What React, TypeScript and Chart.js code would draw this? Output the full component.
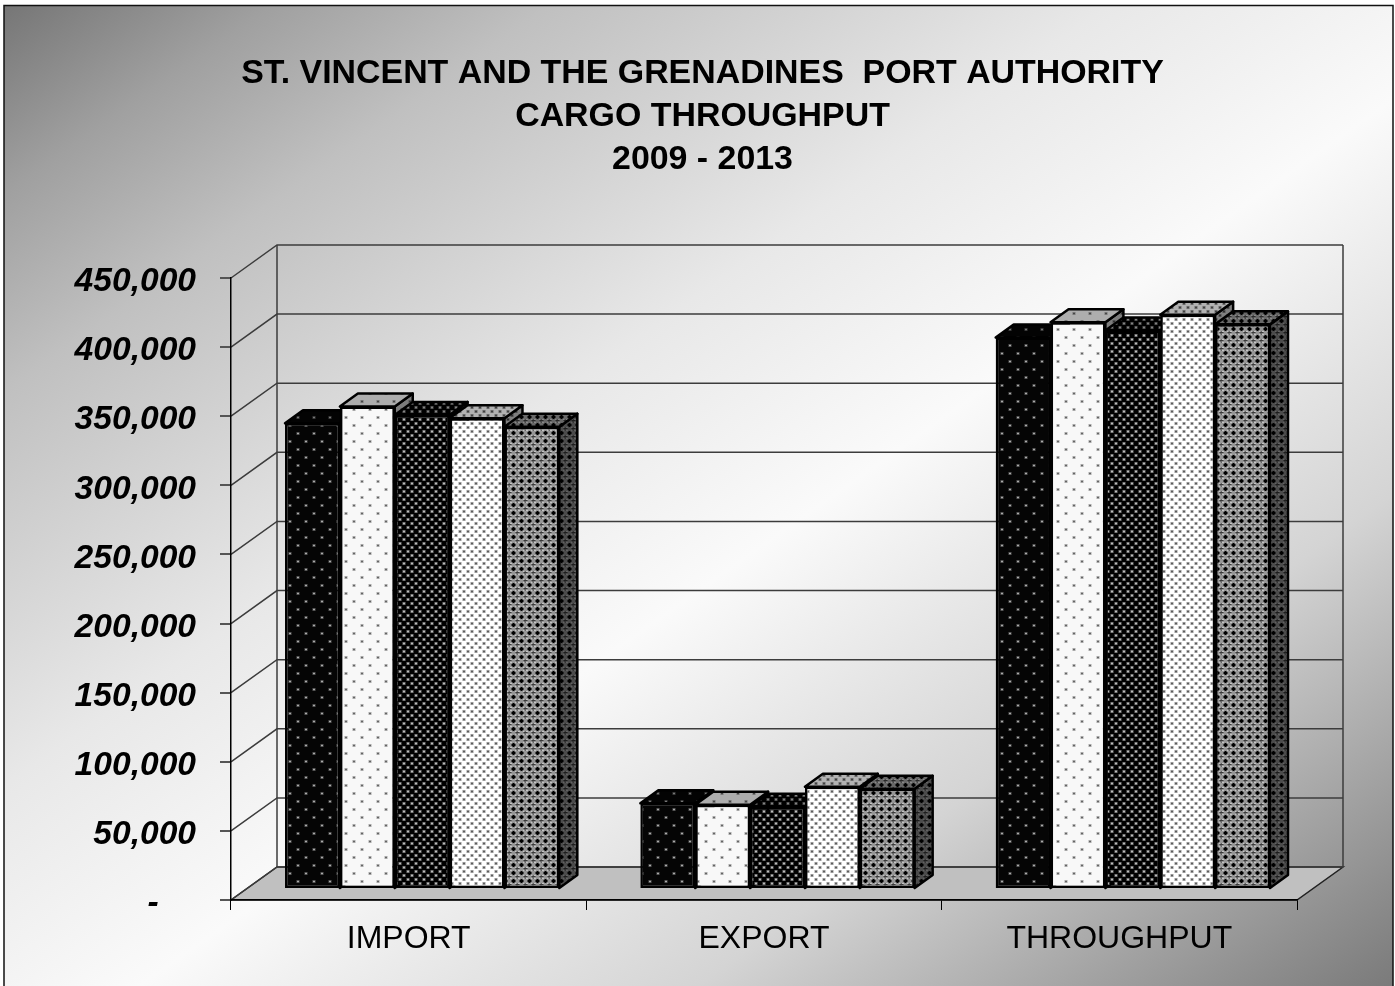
import React, { useEffect, useRef } from "react";
import { Chart, registerables } from "chart.js";

Chart.register(...registerables);

const categories = ["IMPORT", "EXPORT", "THROUGHPUT"];
const years = ["2009", "2010", "2011", "2012", "2013"];
const y2009 = [337000, 62000, 399000];
const y2010 = [349000, 61000, 410000];
const y2011 = [343000, 59500, 404000];
const y2012 = [340500, 74000, 415500];
const y2013 = [334500, 72500, 408500];
const seriesValues = [y2009, y2010, y2011, y2012, y2013];
const titleLines = ["ST. VINCENT AND THE GRENADINES  PORT AUTHORITY", "CARGO THROUGHPUT", "2009 - 2013"];
const AXIS_MAX = 450000;
const AXIS_STEP = 50000;

const WALL_DX = 46;
const WALL_DY = -33;
const BAR_SHIFT_X = 13.5;
const BAR_SHIFT_Y = -11;
const BAR_DX = 18;
const BAR_DY = -13;
const LABEL_DROP = 4;
const FONT = '"Liberation Sans", Arial, sans-serif';

function tile(w: number, h: number, paint: (c: CanvasRenderingContext2D) => void) {
  const cv = document.createElement("canvas");
  cv.width = w;
  cv.height = h;
  const c = cv.getContext("2d")!;
  paint(c);
  return c.createPattern(cv, "repeat")!;
}

function dots(bg: string, fg: string, halo: string, w: number, h: number) {
  return tile(w, h, (c) => {
    c.fillStyle = bg;
    c.fillRect(0, 0, w, h);
    const pts = [
      [Math.floor(w / 4), Math.floor(h / 4)],
      [Math.floor((3 * w) / 4), Math.floor((3 * h) / 4)],
    ];
    for (const [x, y] of pts) {
      c.fillStyle = halo;
      c.fillRect(x - 1, y - 1, 3, 3);
      c.fillStyle = fg;
      c.fillRect(x, y, 1, 1);
    }
  });
}

function lattice() {
  return tile(8, 8, (c) => {
    c.fillStyle = "#969696";
    c.fillRect(0, 0, 8, 8);
    c.fillStyle = "#000";
    c.fillRect(3, 2, 2, 4);
    c.fillRect(2, 3, 4, 2);
    c.fillStyle = "#3a3a3a";
    c.fillRect(7, 6, 2, 4);
    c.fillRect(7, 0, 2, 2);
    c.fillRect(6, 7, 4, 2);
    c.fillRect(0, 7, 2, 2);
    c.fillStyle = "#f0f0f0";
    c.fillRect(1, 1, 1, 1);
    c.fillRect(6, 1, 1, 1);
    c.fillRect(1, 6, 1, 1);
    c.fillRect(6, 6, 1, 1);
  });
}

const framePlugin = {
  id: "frame",
  beforeDraw(chart: any) {
    const { ctx, width: W, height: H, scales } = chart;
    const x0 = scales.x.left;
    const x1 = scales.x.right;
    const y = scales.y;
    const yBase = y.getPixelForValue(0);

    ctx.save();
    const L = Math.hypot(W, H);
    const t = (W * H) / L;
    const nx = H / L;
    const ny = W / L;
    const g = ctx.createLinearGradient(W / 2 - nx * t, H / 2 - ny * t, W / 2 + nx * t, H / 2 + ny * t);
    g.addColorStop(0, "#747474");
    g.addColorStop(0.1, "#a0a0a0");
    g.addColorStop(0.2, "#c0c0c0");
    g.addColorStop(0.4, "#e8e8e8");
    g.addColorStop(0.55, "#fafafa");
    g.addColorStop(0.75, "#d4d4d4");
    g.addColorStop(1, "#7a7a7a");
    ctx.fillStyle = "#ffffff";
    ctx.fillRect(0, 0, W, H);
    ctx.fillStyle = g;
    ctx.fillRect(4, 6, W - 6, H - 6);
    ctx.strokeStyle = "#111";
    ctx.lineWidth = 1.5;
    ctx.strokeRect(4, 5.5, W - 6, H);

    ctx.beginPath();
    ctx.moveTo(x0, yBase);
    ctx.lineTo(x1, yBase);
    ctx.lineTo(x1 + WALL_DX, yBase + WALL_DY);
    ctx.lineTo(x0 + WALL_DX, yBase + WALL_DY);
    ctx.closePath();
    ctx.fillStyle = "#c0c0c0";
    ctx.fill();
    ctx.strokeStyle = "#222";
    ctx.lineWidth = 1.5;
    ctx.stroke();

    ctx.strokeStyle = "#3c3c3c";
    ctx.lineWidth = 1.5;
    for (let v = 0; v <= AXIS_MAX; v += AXIS_STEP) {
      const py = y.getPixelForValue(v);
      ctx.beginPath();
      ctx.moveTo(x0, py);
      ctx.lineTo(x0 + WALL_DX, py + WALL_DY);
      ctx.lineTo(x1 + WALL_DX, py + WALL_DY);
      ctx.stroke();
    }
    const top = y.getPixelForValue(AXIS_MAX);
    ctx.beginPath();
    ctx.moveTo(x0 + WALL_DX, top + WALL_DY);
    ctx.lineTo(x0 + WALL_DX, yBase + WALL_DY);
    ctx.moveTo(x1 + WALL_DX, top + WALL_DY);
    ctx.lineTo(x1 + WALL_DX, yBase + WALL_DY);
    ctx.stroke();
    ctx.restore();
  },
  beforeDatasetsDraw(chart: any) {
    const { ctx } = chart;
    ctx.save();
    ctx.translate(BAR_SHIFT_X, BAR_SHIFT_Y);
    chart.data.datasets.forEach((ds: any, i: number) => {
      chart.getDatasetMeta(i).data.forEach((bar: any) => {
        const left = bar.x - bar.width / 2;
        const right = bar.x + bar.width / 2;
        const face = (pts: number[][], shade: number) => {
          ctx.beginPath();
          pts.forEach(([a, b], k) => (k ? ctx.lineTo(a, b) : ctx.moveTo(a, b)));
          ctx.closePath();
          ctx.fillStyle = ds.backgroundColor;
          ctx.fill();
          ctx.fillStyle = `rgba(0,0,0,${shade})`;
          ctx.fill();
          ctx.strokeStyle = "#000";
          ctx.lineWidth = 2.5;
          ctx.lineJoin = "round";
          ctx.stroke();
        };
        face(
          [
            [right, bar.y],
            [right + BAR_DX, bar.y + BAR_DY],
            [right + BAR_DX, bar.base + BAR_DY],
            [right, bar.base],
          ],
          0.5
        );
        face(
          [
            [left, bar.y],
            [right, bar.y],
            [right + BAR_DX, bar.y + BAR_DY],
            [left + BAR_DX, bar.y + BAR_DY],
          ],
          0.3
        );
      });
    });
    ctx.restore();
    ctx.save();
    ctx.translate(BAR_SHIFT_X, BAR_SHIFT_Y);
  },
  afterDatasetsDraw(chart: any) {
    chart.ctx.restore();
  },
};

function dropLabels(s: any) {
  if (s.__dropped) return;
  s.__dropped = true;
  const draw = s.drawLabels.bind(s);
  s.drawLabels = (area: any) => {
    s.ctx.save();
    s.ctx.translate(0, LABEL_DROP);
    draw(area);
    s.ctx.restore();
  };
}

export default function App() {
  const ref = useRef<HTMLCanvasElement>(null);
  useEffect(() => {
    document.body.style.margin = "0";
    document.body.style.background = "#fff";
    const fills = [
      dots("#050505", "#ffffff", "#555555", 16, 16),
      dots("#f8f8f8", "#222222", "#a8a8a8", 16, 16),
      dots("#000000", "#ffffff", "#777777", 8, 8),
      dots("#ffffff", "#222222", "#999999", 8, 8),
      lattice(),
    ];
    const chart = new Chart(ref.current!, {
      type: "bar",
      data: {
        labels: categories,
        datasets: years.map((year, i) => ({
          label: year,
          data: seriesValues[i],
          backgroundColor: fills[i],
          borderColor: "#000",
          borderWidth: 2.5,
          borderSkipped: false,
          clip: false,
          yAxisID: "y",
          barPercentage: 1,
          categoryPercentage: 0.772,
        })),
      } as any,
      plugins: [framePlugin],
      options: {
        responsive: false,
        animation: false,
        devicePixelRatio: 1,
        events: [],
        layout: { padding: { left: 10, right: 0, top: 0, bottom: 0 } },
        plugins: {
          legend: { display: false },
          tooltip: { enabled: false },
          title: {
            display: true,
            text: titleLines,
            color: "#000",
            font: { family: FONT, size: 33.9, weight: "bold", lineHeight: 43 / 33.9 },
            padding: { top: 52.5, bottom: 96.5 },
          },
        },
        scales: {
          x: {
            grid: { drawOnChartArea: false, drawTicks: true, tickLength: 10, color: "#000", offset: true },
            border: { display: true, color: "#000", width: 1.5 },
            ticks: { color: "#000", padding: 10, maxRotation: 0, font: { family: FONT, size: 32 } },
            afterFit(s: any) {
              s.height = 86;
            },
          },
          y: {
            min: 0,
            max: AXIS_MAX,
            grid: { drawOnChartArea: false, drawTicks: true, tickLength: 11, color: "#555", lineWidth: 2 },
            border: { display: true, color: "#000", width: 1.5 },
            ticks: {
              stepSize: AXIS_STEP,
              color: "#000",
              padding: 24,
              font: { family: FONT, size: 33.6, weight: "bold", style: "italic" },
              callback: (v: any) => (v === 0 ? "-    " : Number(v).toLocaleString("en-US")),
            },
            afterFit(s: any) {
              s.width = 221;
            },
            afterUpdate: dropLabels,
          },
          pad: {
            type: "linear",
            position: "right",
            display: true,
            grid: { display: false },
            border: { display: false },
            ticks: { display: false },
            afterFit(s: any) {
              s.width = 98;
            },
          },
        },
      } as any,
    });
    return () => chart.destroy();
  }, []);
  return (
    <canvas
      ref={ref}
      width={1395}
      height={986}
      style={{ position: "absolute", left: 0, top: 0, display: "block" }}
    />
  );
}
